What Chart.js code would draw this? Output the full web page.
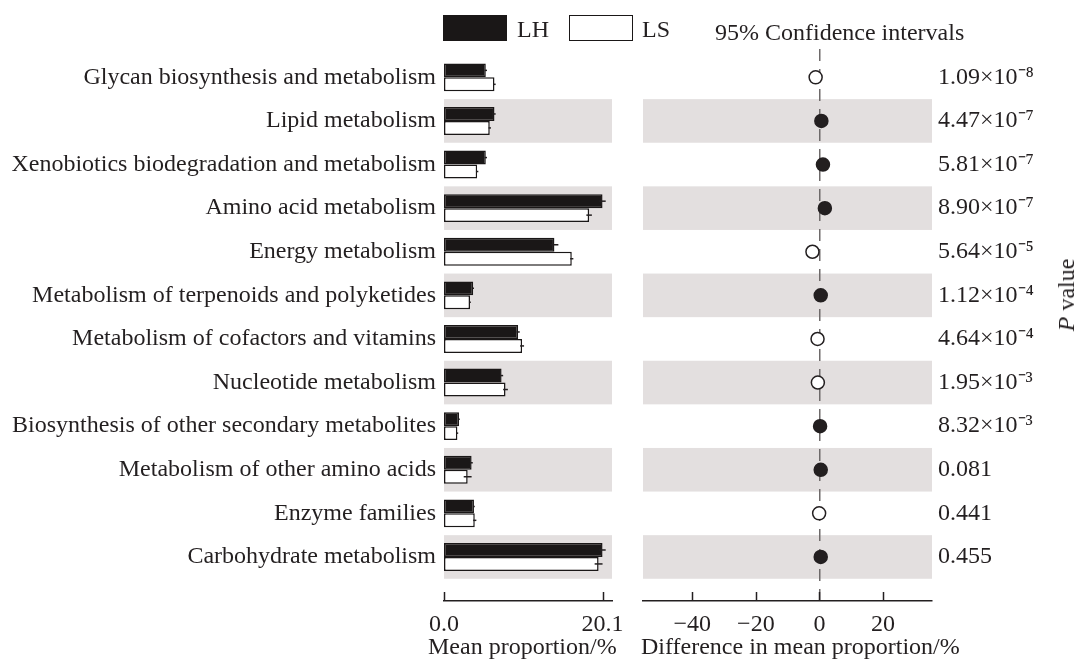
<!DOCTYPE html>
<html lang="en">
<head>
<meta charset="UTF-8">
<title>KEGG pathways LH vs LS</title>
<style>
  body { margin: 0; background: #fff; font-family: "Liberation Serif", "Times New Roman", serif; color: #231f20; }
  #wrap { position: relative; width: 1077px; height: 666px; overflow: hidden; }
  canvas { position: absolute; top: 0; }
  #left { left: 0; }
  #right { left: 630px; }
  .txt { position: absolute; font-size: 24px; line-height: 1; white-space: nowrap; }
  .axt { position: absolute; top: 634px; font-size: 24px; line-height: 1; white-space: nowrap; }
  .box { position: absolute; top: 15px; width: 64px; height: 26px; box-sizing: border-box; border: 1.5px solid #1a1717; }
  #pval { position: absolute; left: 1066px; top: 295px; transform: translate(-50%, -50%) rotate(-90deg); }
</style>
<script src="https://cdn.jsdelivr.net/npm/chart.js"></script>
</head>
<body>
<div id="wrap">
  <canvas id="left" width="700" height="666"></canvas>
  <canvas id="right" width="447" height="666"></canvas>
  <div class="box" style="left:443px;background:#1a1717"></div>
  <div class="txt" style="left:517px;top:17px">LH</div>
  <div class="box" style="left:569px;background:#fff"></div>
  <div class="txt" style="left:642px;top:17px">LS</div>
  <div class="txt" style="left:715px;top:20px">95% Confidence intervals</div>
  <div class="txt" id="pval"><i>P</i> value</div>
  <div class="axt" style="left:428px">Mean proportion/%</div>
  <div class="axt" style="left:641px">Difference in mean proportion/%</div>
</div>

<script>
    const pathways = [
        'Glycan biosynthesis and metabolism',
        'Lipid metabolism',
        'Xenobiotics biodegradation and metabolism',
        'Amino acid metabolism',
        'Energy metabolism',
        'Metabolism of terpenoids and polyketides',
        'Metabolism of cofactors and vitamins',
        'Nucleotide metabolism',
        'Biosynthesis of other secondary metabolites',
        'Metabolism of other amino acids',
        'Enzyme families',
        'Carbohydrate metabolism'
    ];
    const lhMean = [5.3, 6.4, 5.3, 20.1, 14.0, 3.7, 9.4, 7.3, 1.9, 3.5, 3.8, 20.1];
    const lsMean = [6.4, 5.8, 4.2, 18.4, 16.2, 3.3, 9.9, 7.8, 1.7, 3.0, 3.9, 19.6];
    const lhErr = [0.15, 0.15, 0.15, 0.4, 0.5, 0.1, 0.2, 0.2, 0.1, 0.15, 0.1, 0.4];
    const lsErr = [0.15, 0.15, 0.15, 0.35, 0.2, 0.1, 0.25, 0.3, 0.1, 0.5, 0.2, 0.5];
    const diffMean = [-1.2, 0.6, 1.1, 1.7, -2.2, 0.4, -0.6, -0.5, 0.2, 0.4, -0.1, 0.4];
    const pValues = [
        '1.09\u00d710\u207b\u2078', '4.47\u00d710\u207b\u2077', '5.81\u00d710\u207b\u2077',
        '8.90\u00d710\u207b\u2077', '5.64\u00d710\u207b\u2075', '1.12\u00d710\u207b\u2074',
        '4.64\u00d710\u207b\u2074', '1.95\u00d710\u207b\u00b3', '8.32\u00d710\u207b\u00b3',
        '0.081', '0.441', '0.455'
    ];
    const leftTicks = [0, 20.1];
    const rightTicks = [-40, -20, 0, 20];

    const ink = '#231f20';
    const serif = '"Liberation Serif", "Times New Roman", serif';
    const font = { family: serif, size: 24 };

    // shaded bands behind every second row
    const bands = {
        id: 'bands',
        beforeDraw(chart) {
            const { ctx, chartArea: a, scales: { y } } = chart;
            ctx.save();
            ctx.fillStyle = '#e3dfdf';
            pathways.forEach((_, i) => {
                if (i % 2 === 1) {
                    const t = y.getPixelForValue(i - 0.5);
                    const b = y.getPixelForValue(i + 0.5);
                    ctx.fillRect(a.left, t, a.right - a.left, b - t);
                }
            });
            ctx.restore();
        }
    };

    // tick marks pointing up from the x axis line
    const upTicks = {
        id: 'upTicks',
        afterDraw(chart) {
            const { ctx, scales: { x } } = chart;
            ctx.save();
            ctx.strokeStyle = ink;
            ctx.lineWidth = 1.5;
            x.ticks.forEach(t => {
                const px = Math.round(x.getPixelForValue(t.value)) + 0.5;
                ctx.beginPath();
                ctx.moveTo(px, x.top);
                ctx.lineTo(px, x.top - 9);
                ctx.stroke();
            });
            ctx.restore();
        }
    };

    const errBars = {
        id: 'errBars',
        afterDatasetsDraw(chart) {
            const { ctx, scales: { x } } = chart;
            ctx.save();
            ctx.strokeStyle = ink;
            ctx.lineWidth = 1.5;
            [lhErr, lsErr].forEach((err, d) => {
                const vals = d === 0 ? lhMean : lsMean;
                chart.getDatasetMeta(d).data.forEach((bar, i) => {
                    ctx.beginPath();
                    ctx.moveTo(x.getPixelForValue(vals[i] - err[i]), bar.y);
                    ctx.lineTo(x.getPixelForValue(vals[i] + err[i]), bar.y);
                    ctx.stroke();
                });
            });
            ctx.restore();
        }
    };

    function rowScale(extra) {
        return Object.assign({
            type: 'linear',
            reverse: true,
            offset: false,
            min: -0.65,
            max: 12.01,
            grid: { display: false, drawTicks: false },
            border: { display: false },
            afterBuildTicks: s => { s.ticks = pathways.map((_, i) => ({ value: i })); }
        }, extra);
    }

    function bottomAxis(ticks, min, max, fmt, grid) {
        return {
            type: 'linear',
            min: min,
            max: max,
            grid: grid,
            border: { display: true, color: ink, width: 1.5, dash: [12, 8] },
            afterBuildTicks: s => { s.ticks = ticks.map(v => ({ value: v })); },
            ticks: { color: ink, font: font, padding: 9, maxRotation: 0, autoSkip: false, callback: fmt },
            afterFit: s => { s.height = 65; }
        };
    }

    const barStyle = { borderWidth: 1.5, borderColor: '#1a1717', borderSkipped: false,
                       categoryPercentage: 0.64, barPercentage: 1 };

    new Chart(document.getElementById('left'), {
        type: 'bar',
        data: {
            datasets: [
                Object.assign({ label: 'LH', data: lhMean.map((v, i) => ({ x: v, y: i })), backgroundColor: '#1a1717' }, barStyle),
                Object.assign({ label: 'LS', data: lsMean.map((v, i) => ({ x: v, y: i })), backgroundColor: '#ffffff' }, barStyle)
            ]
        },
        options: {
            indexAxis: 'y',
            responsive: false,
            animation: false,
            layout: { padding: { top: 49, right: 88, left: 0, bottom: 0 } },
            plugins: { legend: { display: false }, tooltip: { enabled: false } },
            scales: {
                x: bottomAxis(leftTicks, 0, 21.3, v => v.toFixed(1), { display: false, drawTicks: false }),
                y: rowScale({
                    ticks: { color: ink, font: font, padding: 8, autoSkip: false, callback: v => pathways[v] },
                    afterFit: s => { s.width = 444; }
                })
            }
        },
        plugins: [bands, errBars, upTicks]
    });

    new Chart(document.getElementById('right'), {
        type: 'scatter',
        data: {
            datasets: [{
                label: 'Difference',
                data: diffMean.map((v, i) => ({ x: v, y: i })),
                pointRadius: 6.5,
                borderWidth: 1.5,
                borderColor: ink,
                backgroundColor: c => (c.raw && c.raw.x >= 0 ? ink : '#ffffff')
            }]
        },
        options: {
            responsive: false,
            animation: false,
            layout: { padding: { top: 49, right: 0, left: 13, bottom: 0 } },
            plugins: { legend: { display: false }, tooltip: { enabled: false } },
            scales: {
                x: bottomAxis(rightTicks, -55.5, 35.4,
                    v => (v < 0 ? '\u2212' + Math.abs(v) : String(v)),
                    { display: true, drawTicks: false, lineWidth: 1.5,
                      color: c => (c.tick && c.tick.value === 0 ? '#6e6a6a' : 'rgba(0,0,0,0)') }),
                y: rowScale({
                    position: 'right',
                    ticks: { color: ink, font: font, padding: 6, autoSkip: false, callback: v => pValues[v] },
                    afterFit: s => { s.width = 145; }
                })
            }
        },
        plugins: [bands, upTicks]
    });
</script>
</body>
</html>
